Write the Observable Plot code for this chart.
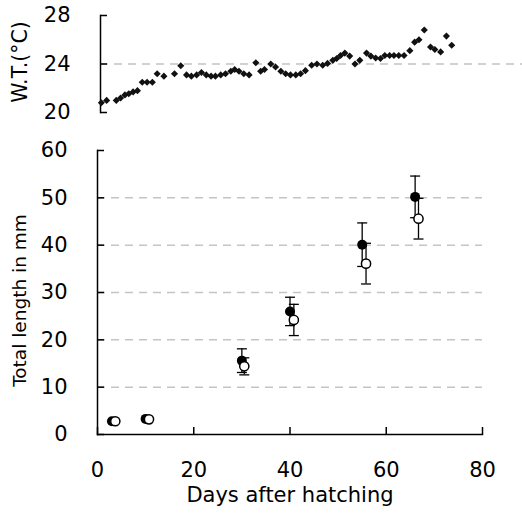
<!DOCTYPE html>
<html><head><meta charset="utf-8">
<script src="https://cdn.jsdelivr.net/npm/d3@7"></script>
<script src="https://cdn.jsdelivr.net/npm/@observablehq/plot@0.6"></script>
<style>body{margin:0;background:#fff} #chart{width:522px} #chart svg{display:block}</style>
</head><body><div id="chart"></div>
<script>
// Water temperature (top panel)
const tempDays = [0.8,1.9,3.9,4.8,5.7,6.5,7.4,8.3,9.3,10.3,11.4,12.4,13.8,16.0,17.3,18.5,19.5,20.6,21.6,22.6,23.6,24.5,25.6,26.6,27.7,28.5,29.4,30.4,31.5,32.9,33.9,34.7,36.0,37.0,38.1,39.1,40.1,41.2,42.2,43.2,44.5,45.6,46.8,47.8,48.9,49.7,50.5,51.4,52.4,53.5,54.5,55.9,56.8,57.8,58.8,59.7,60.7,61.6,62.6,63.7,64.9,65.9,66.8,67.9,69.2,70.1,71.3,72.5,73.6];
const tempValues = [20.8,21.0,21.0,21.2,21.45,21.55,21.7,21.8,22.5,22.5,22.5,23.2,23.0,23.2,23.85,23.1,23.0,23.1,23.3,23.1,23.0,23.0,23.1,23.2,23.4,23.55,23.4,23.2,23.1,24.1,23.4,23.55,24.0,23.75,23.4,23.2,23.1,23.1,23.2,23.45,23.9,24.0,23.9,24.05,24.3,24.45,24.7,24.9,24.65,24.0,24.3,24.9,24.65,24.5,24.45,24.7,24.7,24.7,24.7,24.7,25.1,25.8,26.0,26.8,25.4,25.2,25.0,26.3,25.55];

// Total length (bottom panel)
const filledDays = [3, 10, 30, 40, 55, 66];
const filledMeans = [2.8, 3.3, 15.6, 26.0, 40.1, 50.2];
const filledSD = [0, 0, 2.5, 3.0, 4.6, 4.4];
const openDays = [3.7, 10.7, 30.5, 40.8, 55.8, 66.7];
const openMeans = [2.8, 3.2, 14.4, 24.2, 36.1, 45.6];
const openSD = [0, 0, 1.8, 3.3, 4.3, 4.3];

const dayTicks = [0, 20, 40, 60, 80];
const lengthTicks = [0, 10, 20, 30, 40, 50, 60];
const lengthGrid = [10, 20, 30, 40, 50];
const tempTicks = [20, 24, 28];
const tempGrid = [24];

const temps = tempDays.map((d, i) => ({day: d, t: tempValues[i]}));
const filled = filledDays.map((d, i) => ({day: d, m: filledMeans[i], sd: filledSD[i]}));
const open = openDays.map((d, i) => ({day: d, m: openMeans[i], sd: openSD[i]}));

const W = 522, mL = 97, mR = 40;
const pxPerDay = (W - mL - mR) / 80;
const topML = 100;
const font = {fontFamily: "'DejaVu Sans', sans-serif", fontSize: "21px", color: "#000", background: "#fff", overflow: "visible"};

const capSymbol = {draw(ctx) { ctx.moveTo(-5, 0); ctx.lineTo(5, 0); }};

const topPlot = Plot.plot({
  width: W, height: 130,
  marginLeft: topML, marginRight: 0, marginTop: 15, marginBottom: 18,
  style: font,
  x: {domain: [(topML - mL) / pxPerDay, 80 + mR / pxPerDay], axis: null, label: null},
  y: {domain: [20, 28], label: null},
  marks: [
    Plot.ruleY(tempGrid, {stroke: "#c4c4c4", strokeDasharray: "8,6", strokeWidth: 1.5}),
    Plot.frame({anchor: "left", stroke: "#000", strokeWidth: 1.5}),
    Plot.axisY(tempTicks, {tickSize: -7, tickPadding: 37, fontSize: 21, strokeWidth: 1.5, label: null}),
    Plot.text(["W.T.(°C)"], {frameAnchor: "left", textAnchor: "middle", dx: -80, dy: -2, rotate: -90, fontSize: 20.5}),
    Plot.dot(temps, {x: "day", y: "t", symbol: "diamond2", r: 3.2, fill: "#111", stroke: null})
  ]
});

const errFilled = filled.filter(d => d.sd > 0.5);
const errOpen = open.filter(d => d.sd > 0.5);

const bottomPlot = Plot.plot({
  width: W, height: 384,
  marginLeft: mL, marginRight: mR, marginTop: 20, marginBottom: 80,
  style: font,
  x: {domain: [0, 80], label: null},
  y: {domain: [0, 60], label: null},
  marks: [
    Plot.ruleY(lengthGrid, {stroke: "#c4c4c4", strokeDasharray: "8,6", strokeWidth: 1.5}),
    Plot.frame({anchor: "left", stroke: "#000", strokeWidth: 1.5}),
    Plot.frame({anchor: "bottom", stroke: "#000", strokeWidth: 1.5}),
    Plot.axisY(lengthTicks, {tickSize: -7, tickPadding: 37, fontSize: 21, strokeWidth: 1.5, label: null}),
    Plot.axisX(dayTicks, {tickSize: -7, tickPadding: 35, fontSize: 21, strokeWidth: 1.5, label: null}),
    Plot.text(["Total length in mm"], {frameAnchor: "left", textAnchor: "middle", dx: -77, dy: 8, rotate: -90, fontSize: 18.5}),
    Plot.text(["Days after hatching"], {frameAnchor: "bottom", textAnchor: "middle", dy: 67, fontSize: 21}),
    // filled series error bars
    Plot.ruleX(errFilled, {x: "day", y1: d => d.m - d.sd, y2: d => d.m + d.sd, stroke: "#000", strokeWidth: 1.3}),
    Plot.dot(errFilled, {x: "day", y: d => d.m + d.sd, symbol: capSymbol, r: 5, stroke: "#000", strokeWidth: 1.3}),
    Plot.dot(errFilled, {x: "day", y: d => d.m - d.sd, symbol: capSymbol, r: 5, stroke: "#000", strokeWidth: 1.3}),
    Plot.dot(filled, {x: "day", y: "m", r: 5, fill: "#000", stroke: null}),
    // open series error bars
    Plot.ruleX(errOpen, {x: "day", y1: d => d.m - d.sd, y2: d => d.m + d.sd, stroke: "#000", strokeWidth: 1.3}),
    Plot.dot(errOpen, {x: "day", y: d => d.m + d.sd, symbol: capSymbol, r: 5, stroke: "#000", strokeWidth: 1.3}),
    Plot.dot(errOpen, {x: "day", y: d => d.m - d.sd, symbol: capSymbol, r: 5, stroke: "#000", strokeWidth: 1.3}),
    Plot.dot(open, {x: "day", y: "m", r: 4.6, fill: "#fff", stroke: "#000", strokeWidth: 1.5})
  ]
});

document.getElementById("chart").append(topPlot, bottomPlot);
</script>
</body></html>
